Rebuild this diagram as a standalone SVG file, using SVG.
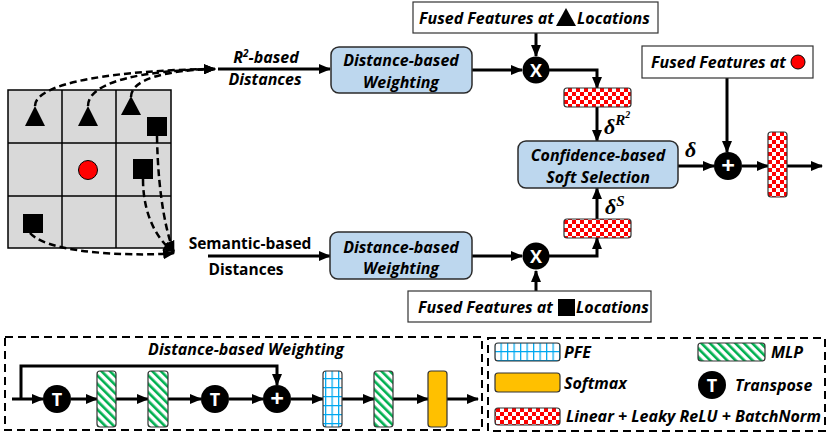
<svg xmlns="http://www.w3.org/2000/svg" width="830" height="434" viewBox="0 0 830 434">
<style>
.t{font-family:"Open Sans","Liberation Sans",sans-serif;font-weight:bold;font-style:italic;font-size:16px;fill:#000}
.tu{font-family:"Open Sans","Liberation Sans",sans-serif;font-weight:bold;font-size:15.5px;fill:#000}
.c{text-anchor:middle}
.ln{fill:none;stroke:#000;stroke-width:3;marker-end:url(#ah)}
.dash{fill:none;stroke:#000;stroke-width:2.5;stroke-dasharray:7 4;marker-end:url(#ah)}
.box{fill:#bdd7ee;stroke:#2b2b2b;stroke-width:1.5}
.wbox{fill:#fff;stroke:#333;stroke-width:1.2}
.op{fill:#000}
.opt{font-family:"Open Sans","Liberation Sans",sans-serif;font-weight:bold;font-size:18px;fill:#fff;text-anchor:middle}
.opp{font-family:"Open Sans","Liberation Sans",sans-serif;font-weight:bold;font-size:24px;fill:#fff;text-anchor:middle}
.chk{fill:url(#checker);stroke:#333;stroke-width:1.2}
.hat{fill:url(#hatch);stroke:#333;stroke-width:1.2}
.pfe{fill:url(#grid);stroke:#333;stroke-width:1.2}
.sm{fill:#ffc000;stroke:#333;stroke-width:1.2}
.frame{fill:none;stroke:#000;stroke-width:2;stroke-dasharray:8 5}
.d{font-family:"Liberation Serif",serif;font-style:italic;font-weight:bold;fill:#000}
</style>
<defs>
<marker id="ah" viewBox="0 0 12 10" refX="11" refY="5" markerWidth="12" markerHeight="10" markerUnits="userSpaceOnUse" orient="auto"><path d="M0,0 L12,5 L0,10 z" fill="#000"/></marker>
<pattern id="checker" width="8" height="8" patternUnits="userSpaceOnUse">
<rect width="8" height="8" fill="#fff"/>
<rect width="4" height="4" fill="#f00"/>
<rect x="4" y="4" width="4" height="4" fill="#f00"/>
</pattern>
<pattern id="hatch" width="6" height="6" patternUnits="userSpaceOnUse" patternTransform="rotate(-45)">
<rect width="6" height="6" fill="#fff"/>
<rect width="2.6" height="6" fill="#00b050"/>
</pattern>
<pattern id="grid" width="6.5" height="9" patternUnits="userSpaceOnUse">
<rect width="6.5" height="9" fill="#fff"/>
<path d="M0.6,0 V9 M0,0.6 H6.5" stroke="#00a8f0" stroke-width="1.3" fill="none"/>
</pattern>
</defs>

<g id="grid-map">
<rect x="8" y="90" width="163" height="158" fill="#d9d9d9" stroke="#000" stroke-width="1.5"/>
<path d="M62,90 V248 M116,90 V248 M8,143 H171 M8,196 H171" stroke="#000" stroke-width="1.5"/>
<polygon points="35,106 25,126 45,126" fill="#000"/>
<polygon points="88,106 78,126 98,126" fill="#000"/>
<polygon points="131,96 121,115 141,115" fill="#000"/>
<rect x="147" y="117" width="20" height="19" fill="#000"/>
<rect x="133" y="159" width="20" height="20" fill="#000"/>
<rect x="23" y="214" width="20" height="19" fill="#000"/>
<circle cx="88" cy="170" r="9.5" fill="#f00" stroke="#000" stroke-width="1"/>
</g>

<g id="connectors">
<path class="dash" d="M35,106 C35,82 120,70 215,69"/>
<path class="dash" d="M88,106 C88,80 150,70 215,69"/>
<path class="dash" d="M131,97 C131,78 170,70 215,69"/>
<path class="dash" d="M157,136 C158,200 168,238 174,252"/>
<path class="dash" d="M143,179 C143,222 163,245 174,252"/>
<path class="dash" d="M30,233 C50,256 150,256 174,253"/>
<path class="ln" d="M218,69 H330"/>
<path class="ln" d="M208,256 H330"/>
<path class="ln" d="M472,70 H522"/>
<path class="ln" d="M536,33 V56"/>
<path class="ln" d="M549,70 H597 V88"/>
<path class="ln" d="M597,107 V141"/>
<path class="ln" d="M472,256 H522"/>
<path class="ln" d="M536,291 V271"/>
<path class="ln" d="M549,256 H597 V238"/>
<path class="ln" d="M597,219 V188"/>
<path class="ln" d="M678,166 H714"/>
<path class="ln" d="M727,78 V152"/>
<path class="ln" d="M742,166 H768"/>
<path class="ln" d="M787,166 H822"/>
<path class="ln" d="M12,399 H43"/>
<path class="ln" d="M71,399 H97"/>
<path class="ln" d="M116,399 H148"/>
<path class="ln" d="M168,399 H201"/>
<path class="ln" d="M229,399 H263"/>
<path class="ln" d="M21,399 V366 H277 V385"/>
<path class="ln" d="M291,399 H323"/>
<path class="ln" d="M342,399 H374"/>
<path class="ln" d="M393,399 H428"/>
<path class="ln" d="M447,399 H478"/>
</g>

<g id="label-r2">
<text class="t c" x="266" y="63">R<tspan font-size="10" dy="-6">2</tspan><tspan dy="6">-based</tspan></text>
<text class="t c" x="265" y="85">Distances</text>
</g>
<g id="label-sem">
<text class="tu c" x="250" y="249">Semantic-based</text>
<text class="tu c" x="246" y="275">Distances</text>
</g>

<g id="dbw-top">
<rect class="box" x="331" y="47" width="141" height="46" rx="8"/>
<text class="t c" x="401" y="66">Distance-based</text>
<text class="t c" x="401" y="88">Weighting</text>
</g>
<g id="dbw-bottom">
<rect class="box" x="330" y="232" width="142" height="47" rx="8"/>
<text class="t c" x="401" y="253">Distance-based</text>
<text class="t c" x="401" y="274">Weighting</text>
</g>

<g id="fused-tri">
<rect class="wbox" x="413" y="2" width="245" height="31"/>
<text class="t" x="419" y="24">Fused Features at</text>
<polygon points="566,8 556,26 576,26" fill="#000"/>
<text class="t" x="577" y="24">Locations</text>
</g>
<g id="fused-sq">
<rect class="wbox" x="408" y="291" width="243" height="31"/>
<text class="t" x="418" y="313">Fused Features at</text>
<rect x="558" y="299" width="17" height="17" fill="#000"/>
<text class="t" x="576" y="313">Locations</text>
</g>
<g id="fused-circ">
<rect class="wbox" x="642" y="46" width="171" height="32"/>
<text class="t" x="651" y="68">Fused Features at</text>
<circle cx="798" cy="62" r="7" fill="#f00" stroke="#000" stroke-width="1"/>
</g>

<g id="mul-top"><circle class="op" cx="536" cy="70" r="13.5"/><text class="opt" x="536" y="76.5">X</text></g>
<g id="mul-bottom"><circle class="op" cx="536" cy="256" r="13.5"/><text class="opt" x="536" y="262.5">X</text></g>

<g id="lin-top"><rect class="chk" x="564" y="88" width="67" height="19" rx="3"/></g>
<g id="lin-bottom"><rect class="chk" x="564" y="219" width="67" height="19" rx="3"/></g>
<text class="d" x="604" y="134" font-size="22">δ<tspan font-size="15" dy="-9">R</tspan><tspan font-size="10" dy="-7">2</tspan></text>
<text class="d" x="605" y="214" font-size="22">δ<tspan font-size="15" dy="-8">S</tspan></text>

<g id="conf">
<rect class="box" x="518" y="141" width="160" height="47" rx="8"/>
<text class="t c" x="598" y="161">Confidence-based</text>
<text class="t c" x="598" y="183">Soft Selection</text>
</g>
<text class="d" x="685" y="157" font-size="22">δ</text>

<g id="add"><circle class="op" cx="728" cy="166" r="14"/><text class="opp" x="728" y="174">+</text></g>
<g id="lin-out"><rect class="chk" x="768" y="132" width="19" height="65" rx="3"/></g>

<g id="dbw-detail">
<rect class="frame" x="5" y="337" width="477" height="93"/>
<text class="t c" x="246" y="355">Distance-based Weighting</text>
<g id="t1"><circle class="op" cx="57" cy="399" r="14"/><text class="opt" x="57" y="405.5">T</text></g>
<g id="mlp1"><rect class="hat" x="97" y="371" width="19" height="56" rx="3"/></g>
<g id="mlp2"><rect class="hat" x="148" y="371" width="20" height="56" rx="3"/></g>
<g id="t2"><circle class="op" cx="215" cy="399" r="14"/><text class="opt" x="215" y="405.5">T</text></g>
<g id="add2"><circle class="op" cx="277" cy="399" r="14"/><text class="opp" x="277" y="407">+</text></g>
<g id="pfe1"><rect class="pfe" x="323" y="371" width="19" height="56" rx="3"/></g>
<g id="mlp3"><rect class="hat" x="374" y="371" width="19" height="56" rx="3"/></g>
<g id="softmax1"><rect class="sm" x="428" y="371" width="19" height="56" rx="3"/></g>
</g>

<g id="legend">
<rect class="frame" x="488" y="338" width="337" height="93"/>
<rect class="pfe" x="495" y="343" width="65" height="18" rx="3"/>
<text class="t" x="564" y="358">PFE</text>
<rect class="hat" x="698" y="343" width="67" height="18" rx="3"/>
<text class="t" x="771" y="358">MLP</text>
<rect class="sm" x="495" y="373" width="65" height="19" rx="3"/>
<text class="t" x="564" y="389">Softmax</text>
<circle class="op" cx="712" cy="385" r="14"/><text class="opt" x="712" y="391.5">T</text>
<text class="t" x="735" y="391">Transpose</text>
<rect class="chk" x="495" y="408" width="65" height="17" rx="3"/>
<text class="t" x="566" y="422">Linear + Leaky ReLU + BatchNorm</text>
</g>
</svg>
